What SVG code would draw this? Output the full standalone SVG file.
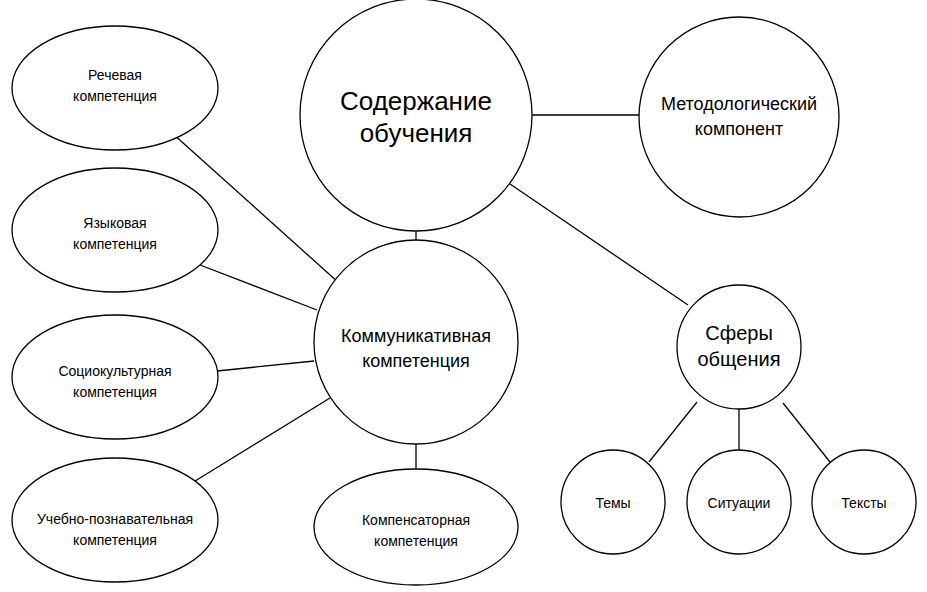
<svg xmlns="http://www.w3.org/2000/svg" width="927" height="592" viewBox="0 0 927 592">
<style>
.n{fill:#fff;stroke:#000;stroke-width:1.3}
text{font-family:"Liberation Sans",Arial,sans-serif;fill:#000;text-anchor:middle}
.s{font-size:14px}.m{font-size:18px}.l{font-size:26px}.f{font-size:20px}
#edges line{stroke:#000;stroke-width:1.3}
</style>
<rect width="927" height="592" fill="#fff"/>
<g id="edges">
<line x1="416" y1="230" x2="416" y2="245"/>
<line x1="532" y1="115" x2="639" y2="115"/>
<line x1="510" y1="184" x2="688" y2="305"/>
<line x1="172" y1="133" x2="339" y2="283"/>
<line x1="200" y1="265" x2="317" y2="310"/>
<line x1="217" y1="371" x2="314" y2="361"/>
<line x1="187" y1="486" x2="330" y2="398"/>
<line x1="416" y1="444" x2="416" y2="470"/>
<line x1="697" y1="402" x2="649" y2="462"/>
<line x1="739" y1="409" x2="739" y2="450"/>
<line x1="783" y1="403" x2="830" y2="462"/>
</g>
<g id="rech"><ellipse class="n" cx="115" cy="88" rx="103" ry="62"/><text class="s" x="115" y="80">Речевая</text><text class="s" x="115" y="101">компетенция</text></g>
<g id="yaz"><ellipse class="n" cx="115" cy="230" rx="103" ry="62"/><text class="s" x="115" y="228">Языковая</text><text class="s" x="115" y="249">компетенция</text></g>
<g id="soc"><ellipse class="n" cx="115" cy="377" rx="103" ry="62"/><text class="s" x="115" y="376">Социокультурная</text><text class="s" x="115" y="397">компетенция</text></g>
<g id="ucheb"><ellipse class="n" cx="115" cy="520" rx="103" ry="62"/><text class="s" x="115" y="524">Учебно-познавательная</text><text class="s" x="115" y="545">компетенция</text></g>
<g id="soderzh"><circle class="n" cx="416" cy="115" r="116"/><text class="l" x="416" y="110">Содержание</text><text class="l" x="416" y="142">обучения</text></g>
<g id="metod"><circle class="n" cx="739" cy="117" r="100"/><text class="m" x="739" y="110">Методологический</text><text class="m" x="739" y="135">компонент</text></g>
<g id="komm"><circle class="n" cx="416" cy="342" r="102"/><text class="m" x="416" y="342">Коммуникативная</text><text class="m" x="416" y="367">компетенция</text></g>
<g id="komp"><ellipse class="n" cx="416" cy="527" rx="102" ry="58"/><text class="s" x="416" y="525">Компенсаторная</text><text class="s" x="416" y="546">компетенция</text></g>
<g id="sfery"><circle class="n" cx="739" cy="347" r="62"/><text class="f" x="739" y="340">Сферы</text><text class="f" x="739" y="366">общения</text></g>
<g id="temy"><circle class="n" cx="613" cy="502" r="52"/><text class="s" x="613" y="508">Темы</text></g>
<g id="sit"><circle class="n" cx="739" cy="502" r="52"/><text class="s" x="739" y="508">Ситуации</text></g>
<g id="texty"><circle class="n" cx="864" cy="502" r="52"/><text class="s" x="864" y="508">Тексты</text></g>
</svg>
